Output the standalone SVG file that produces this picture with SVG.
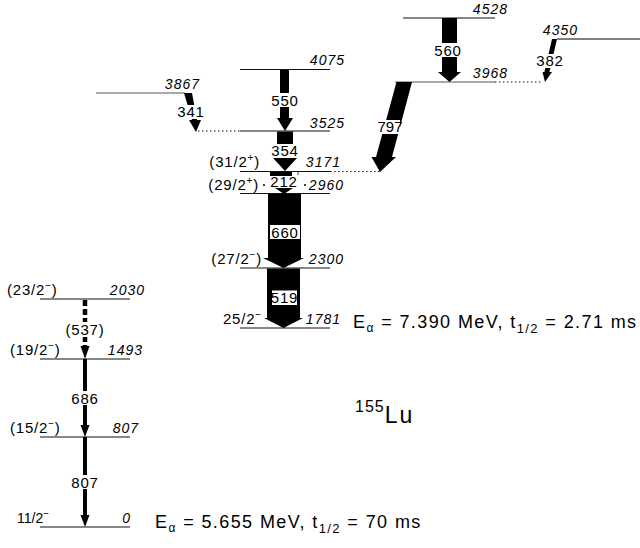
<svg xmlns="http://www.w3.org/2000/svg" width="640" height="548" viewBox="0 0 640 548">
<style>
.lv{stroke:#111;stroke-width:1.2;fill:none}
.lg{stroke:#555;stroke-width:1.2;fill:none}
.dot{stroke:#111;stroke-width:1;stroke-dasharray:1.5 2.5;fill:none}
.en{font-family:"Liberation Sans",Arial,sans-serif;font-size:14px;font-style:italic;letter-spacing:1px;fill:#000}
.sp{font-family:"Liberation Sans",Arial,sans-serif;font-size:15px;letter-spacing:0.8px;fill:#000}
.gl{font-family:"Liberation Sans",Arial,sans-serif;font-size:15px;letter-spacing:0.8px;fill:#000;text-anchor:middle}
.ar{fill:#000}
.bx{fill:#fff}
.big{font-family:"Liberation Sans",Arial,sans-serif;font-size:18px;letter-spacing:1.4px;fill:#000}
</style>
<rect width="640" height="548" fill="#fff"/>
<g id="levels">
<g id="lv4528"><line class="lv" x1="403" y1="18" x2="495" y2="18"/><text class="en" x="508" y="14" text-anchor="end">4528</text></g>
<g id="lv4350"><line class="lg" x1="557" y1="39" x2="640" y2="39" style="stroke-width:1.6"/><text class="en" x="578" y="35" text-anchor="end">4350</text></g>
<g id="lv4075"><line class="lv" x1="240" y1="69.5" x2="330" y2="69.5"/><text class="en" x="345" y="65" text-anchor="end">4075</text></g>
<g id="lv3968"><line class="lg" x1="395" y1="82" x2="495" y2="82"/><line class="dot" x1="495" y1="82" x2="542" y2="82"/><text class="en" x="508" y="78" text-anchor="end">3968</text></g>
<g id="lv3867"><line class="lg" x1="96" y1="93" x2="185" y2="93"/><text class="en" x="200" y="89" text-anchor="end">3867</text></g>
<g id="lv3525"><line class="lv" x1="240" y1="131" x2="330" y2="131"/><line class="dot" x1="198" y1="131" x2="240" y2="131"/><text class="en" x="345" y="128" text-anchor="end">3525</text></g>
<g id="lv3171"><line class="lv" x1="240" y1="171.5" x2="330" y2="171.5"/><line class="dot" x1="330" y1="171.5" x2="380" y2="171.5"/><line class="lv" x1="298" y1="171" x2="298" y2="175" style="stroke-width:0.8"/><text class="en" x="341" y="167" text-anchor="end">3171</text><text class="sp" x="260" y="167" text-anchor="end">(31/2<tspan font-size="10" dy="-6">+</tspan><tspan dy="6">)</tspan></text></g>
<g id="lv2960"><line class="lv" x1="240" y1="193.5" x2="330" y2="193.5"/><text class="en" x="344" y="190" text-anchor="end">2960</text><text class="sp" x="259" y="190" text-anchor="end">(29/2<tspan font-size="10" dy="-6">+</tspan><tspan dy="6">)</tspan></text></g>
<g id="lv2300"><line class="lv" x1="240" y1="268" x2="330" y2="268"/><text class="en" x="344" y="264" text-anchor="end">2300</text><text class="sp" x="262" y="264" text-anchor="end">(27/2<tspan font-size="10" dy="-6">−</tspan><tspan dy="6">)</tspan></text></g>
<g id="lv1781"><line class="lv" x1="240" y1="328" x2="330" y2="328"/><text class="en" x="341" y="324" text-anchor="end">1781</text><text class="sp" x="262" y="324" text-anchor="end">25/2<tspan font-size="10" dy="-6">−</tspan></text></g>
<g id="lv2030"><line class="lv" x1="40" y1="299" x2="130" y2="299"/><text class="en" x="145" y="295" text-anchor="end">2030</text><text class="sp" x="7" y="295">(23/2<tspan font-size="10" dy="-6">−</tspan><tspan dy="6">)</tspan></text></g>
<g id="lv1493"><line class="lv" x1="40" y1="359" x2="130" y2="359"/><text class="en" x="143" y="355" text-anchor="end">1493</text><text class="sp" x="10" y="355">(19/2<tspan font-size="10" dy="-6">−</tspan><tspan dy="6">)</tspan></text></g>
<g id="lv807"><line class="lv" x1="40" y1="437" x2="130" y2="437"/><text class="en" x="139" y="433" text-anchor="end">807</text><text class="sp" x="10" y="433">(15/2<tspan font-size="10" dy="-6">−</tspan><tspan dy="6">)</tspan></text></g>
<g id="lv0"><line class="lv" x1="40" y1="527" x2="130" y2="527"/><text class="en" x="131" y="523" text-anchor="end">0</text><text class="sp" x="17" y="523" style="font-size:14px;letter-spacing:0">11/2<tspan font-size="10" dy="-6">−</tspan></text></g>
</g>
<g id="transitions">
<g id="g560"><polygon class="ar" points="442,18 457,18 457,72 461,72 449.5,82 438,72 442,72"/><rect class="bx" x="434" y="43" width="28" height="14"/><text class="gl" x="448" y="55.5">560</text></g>
<g id="g382"><polygon class="ar" points="552,39 557,39 549.4,72 552,72 545,82 542.5,72 544.4,72"/><rect class="bx" x="537" y="54" width="25" height="14"/><text class="gl" x="550" y="66">382</text></g>
<g id="g797"><polygon class="ar" points="396.5,82 412,82 392,157 396,157 380,172 371.5,157 376,157"/><rect class="bx" x="379" y="120" width="21" height="14"/><text class="gl" x="390" y="132" style="letter-spacing:0">797</text></g>
<g id="g550"><polygon class="ar" points="280,70 289,70 289,118 293,118 285,131 277,118 280,118"/><rect class="bx" x="271" y="93" width="28" height="14"/><text class="gl" x="285" y="105.5">550</text></g>
<g id="g341"><polygon class="ar" points="184,93 192,93 197,120 201,120 196,132 189,120 192,120"/><rect class="bx" x="179" y="105" width="25" height="14"/><text class="gl" x="191" y="117">341</text></g>
<g id="g354"><polygon class="ar" points="277,131.5 293,131.5 293,158 297,158 285,171 273,158 277,158"/><rect class="bx" x="272" y="144" width="26" height="14"/><text class="gl" x="285" y="156">354</text></g>
<g id="g212"><rect class="ar" x="270" y="172" width="22" height="4"/><polygon class="ar" points="275,188 293,188 284,194"/><circle class="ar" cx="264" cy="185" r="1"/><circle class="ar" cx="305" cy="185" r="1"/><text class="gl" x="284" y="187">212</text></g>
<g id="g660"><polygon class="ar" points="268,194 301,194 301,258 304,258 283.5,268 263,258 268,258"/><rect class="bx" x="270" y="225" width="30" height="14"/><text class="gl" x="285" y="237.5">660</text></g>
<g id="g519"><polygon class="ar" points="267,268.5 300,268.5 300,318 303,318 283.5,328 264,318 267,318"/><rect class="bx" x="272" y="290.5" width="25" height="14.5"/><text class="gl" x="284.5" y="303">519</text></g>
<g id="g537"><line x1="85" y1="300" x2="85" y2="347" stroke="#000" stroke-width="4.5" stroke-dasharray="6 3"/><polygon class="ar" points="80.5,346 89.5,346 85,359"/><rect class="bx" x="66" y="322" width="38" height="15"/><text class="gl" x="85" y="334.5">(537)</text></g>
<g id="g686"><rect class="ar" x="83" y="359" width="4" height="67"/><polygon class="ar" points="80.5,425 89.5,425 85,437"/><rect class="bx" x="71" y="391" width="28" height="14"/><text class="gl" x="85" y="403.5">686</text></g>
<g id="g807"><rect class="ar" x="83" y="437" width="4" height="79"/><polygon class="ar" points="80.5,515 89.5,515 85,527"/><rect class="bx" x="71" y="475" width="28" height="14"/><text class="gl" x="85" y="487.5">807</text></g>
</g>
<g id="labels">
<text class="big" x="353" y="328">E<tspan font-size="12" dy="4">α</tspan><tspan dy="-4"> = 7.390 MeV, t</tspan><tspan font-size="13" dy="5">1/2</tspan><tspan dy="-5"> = 2.71 ms</tspan></text>
<text class="big" x="155" y="528">E<tspan font-size="12" dy="4">α</tspan><tspan dy="-4"> = 5.655 MeV, t</tspan><tspan font-size="13" dy="5">1/2</tspan><tspan dy="-5"> = 70 ms</tspan></text>
<text font-family="Liberation Sans, Arial, sans-serif" x="355" y="423"><tspan font-size="16" dy="-11" letter-spacing="1">155</tspan><tspan font-size="23" dy="11" letter-spacing="2">Lu</tspan></text>
</g>
</svg>
